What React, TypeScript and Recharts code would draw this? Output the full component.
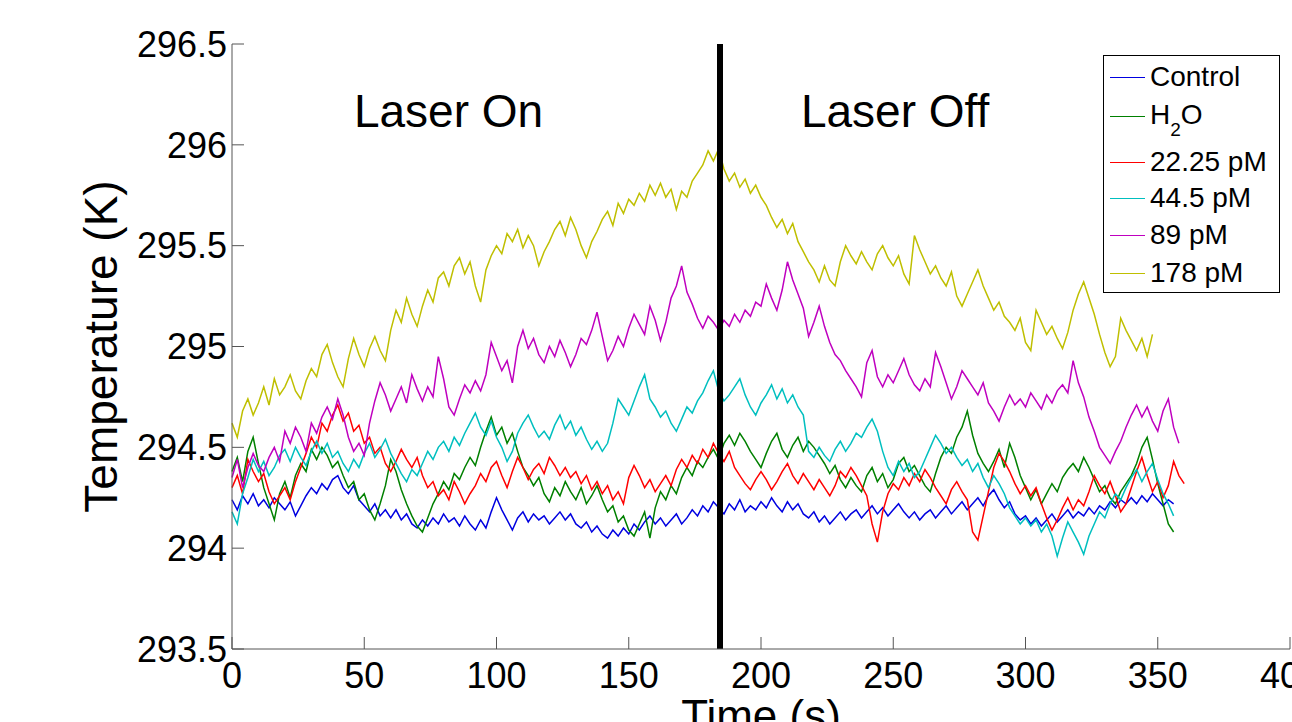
import {
    LineChart,
    Line,
    XAxis,
    YAxis,
    ReferenceLine,
    ReferenceDot,
    Legend,
} from "recharts";

const FONT = "'Liberation Sans', Arial, Helvetica, sans-serif";
const AXIS_COLOR = "#555";

// seconds between samples
const SAMPLE_PERIOD = 2;
const LASER_OFF_TIME = 184.5;

const X_TICKS = [0, 50, 100, 150, 200, 250, 300, 350, 400];
const Y_TICKS = [293.5, 294, 294.5, 295, 295.5, 296, 296.5];

// temperature (K), one value every 2 s starting at t = 0
const CONTROL = [
    294.24, 294.19, 294.26, 294.22, 294.27, 294.21, 294.24, 294.2, 294.25, 294.22,
    294.19, 294.23, 294.16, 294.21, 294.26, 294.3, 294.27, 294.32, 294.29, 294.34,
    294.36, 294.3, 294.27, 294.31, 294.24, 294.21, 294.18, 294.22, 294.16, 294.19,
    294.15, 294.19, 294.14, 294.17, 294.12, 294.1, 294.14, 294.11, 294.15, 294.12,
    294.17, 294.13, 294.15, 294.11, 294.16, 294.12, 294.09, 294.14, 294.1, 294.18,
    294.25, 294.19, 294.14, 294.09, 294.15, 294.18, 294.13, 294.17, 294.14, 294.16,
    294.12, 294.15, 294.18, 294.14, 294.17, 294.12, 294.1, 294.13, 294.08, 294.11,
    294.07, 294.05, 294.09, 294.06, 294.1, 294.07, 294.12, 294.09, 294.13, 294.16,
    294.12, 294.15, 294.11, 294.14, 294.17, 294.12, 294.15, 294.19, 294.16, 294.21,
    294.18, 294.23, 294.2, 294.17, 294.22, 294.19, 294.24, 294.18, 294.21, 294.19,
    294.23, 294.2, 294.25, 294.21, 294.18, 294.23, 294.19, 294.22, 294.17, 294.15,
    294.18, 294.13, 294.16, 294.12, 294.15, 294.18, 294.14, 294.17, 294.19, 294.15,
    294.18, 294.21, 294.17, 294.2, 294.16, 294.19, 294.22, 294.18, 294.15, 294.18,
    294.14, 294.17, 294.19, 294.15, 294.18, 294.21, 294.17, 294.2, 294.23, 294.19,
    294.22, 294.25, 294.21, 294.26, 294.29, 294.24, 294.2, 294.23, 294.17, 294.14,
    294.16, 294.12, 294.15, 294.11, 294.14, 294.17, 294.13, 294.16, 294.19, 294.15,
    294.18, 294.16, 294.2, 294.17, 294.21, 294.19, 294.23, 294.2, 294.24, 294.22,
    294.25, 294.22, 294.26, 294.23, 294.27, 294.24, 294.21, 294.24, 294.22,
];

const H2O = [
    294.38, 294.45, 294.33, 294.48, 294.55, 294.42, 294.3, 294.22, 294.14, 294.27,
    294.33, 294.25, 294.36, 294.42, 294.38, 294.49, 294.44, 294.5, 294.46, 294.4,
    294.43, 294.36, 294.3, 294.33, 294.24, 294.27, 294.19, 294.14, 294.22, 294.31,
    294.44, 294.38, 294.29, 294.22, 294.16, 294.11, 294.08, 294.15, 294.22, 294.27,
    294.33, 294.29, 294.37, 294.34, 294.4, 294.45, 294.41, 294.5, 294.58, 294.65,
    294.56, 294.6, 294.52, 294.57, 294.48, 294.4, 294.36, 294.31, 294.35, 294.27,
    294.23, 294.3, 294.26, 294.33, 294.28, 294.24, 294.3, 294.22, 294.26, 294.31,
    294.24, 294.18, 294.21, 294.13, 294.16, 294.09, 294.06, 294.12, 294.18, 294.05,
    294.2, 294.28, 294.24, 294.31, 294.27, 294.35, 294.4, 294.36, 294.43, 294.4,
    294.45, 294.49, 294.44, 294.52, 294.56, 294.51, 294.57, 294.53, 294.48, 294.44,
    294.4, 294.47, 294.53, 294.57, 294.49, 294.45, 294.51, 294.55, 294.48, 294.53,
    294.5, 294.46, 294.42, 294.37, 294.41, 294.34, 294.3, 294.35, 294.31, 294.28,
    294.36, 294.4, 294.33, 294.37, 294.3, 294.34, 294.42, 294.45, 294.38, 294.41,
    294.36, 294.31, 294.28, 294.37, 294.45, 294.5, 294.47, 294.55, 294.6, 294.68,
    294.56, 294.47, 294.42, 294.38, 294.43, 294.49, 294.4, 294.52, 294.45, 294.36,
    294.3, 294.24, 294.29, 294.22, 294.27, 294.32, 294.28, 294.35, 294.39, 294.42,
    294.38, 294.45, 294.4, 294.34, 294.28, 294.31, 294.25, 294.22, 294.28, 294.32,
    294.36, 294.42, 294.5, 294.55, 294.44, 294.32, 294.22, 294.12, 294.08,
];

const PM_22 = [
    294.3, 294.36, 294.27, 294.44, 294.38, 294.33, 294.37, 294.28, 294.22, 294.26,
    294.3, 294.24, 294.33, 294.4, 294.47, 294.55, 294.5, 294.62, 294.58, 294.66,
    294.71, 294.63, 294.67, 294.58, 294.61, 294.52, 294.55, 294.47, 294.5, 294.42,
    294.38, 294.43, 294.49, 294.44, 294.4, 294.45, 294.36, 294.3, 294.33, 294.26,
    294.29, 294.24, 294.33, 294.28, 294.22, 294.27, 294.31, 294.37, 294.33, 294.4,
    294.43, 294.36, 294.3, 294.38, 294.45, 294.4, 294.34, 294.39, 294.42, 294.37,
    294.45, 294.41, 294.36, 294.4, 294.35, 294.38, 294.32, 294.36, 294.29, 294.33,
    294.27, 294.31, 294.24, 294.28, 294.22, 294.35, 294.41, 294.36, 294.3, 294.34,
    294.28, 294.32, 294.36, 294.31, 294.39, 294.44, 294.4, 294.46, 294.42, 294.49,
    294.45, 294.52, 294.47, 294.43, 294.48, 294.4, 294.36, 294.32, 294.29, 294.34,
    294.38, 294.34, 294.29, 294.33, 294.38, 294.42, 294.36, 294.32, 294.37, 294.33,
    294.29, 294.34, 294.3, 294.26, 294.31, 294.38, 294.35, 294.4, 294.36, 294.31,
    294.26, 294.12, 294.03, 294.18, 294.27, 294.32, 294.29, 294.35, 294.31, 294.37,
    294.33, 294.39, 294.35, 294.3, 294.26, 294.22, 294.29, 294.33, 294.28, 294.24,
    294.08, 294.04, 294.16, 294.28, 294.4, 294.47, 294.43, 294.38, 294.32, 294.27,
    294.31, 294.26, 294.3, 294.22, 294.15, 294.09, 294.14, 294.2, 294.25, 294.19,
    294.24, 294.21, 294.28, 294.36, 294.31, 294.27, 294.33, 294.26, 294.18, 294.22,
    294.3, 294.38, 294.45, 294.36, 294.28, 294.33, 294.25, 294.31, 294.43, 294.36,
    294.32,
];

const PM_44 = [
    294.18, 294.12, 294.27, 294.35, 294.44, 294.38, 294.43, 294.36, 294.4, 294.46,
    294.49, 294.43, 294.5, 294.45, 294.41, 294.48, 294.53, 294.47, 294.52, 294.45,
    294.48, 294.42, 294.38, 294.44, 294.4, 294.47, 294.52, 294.45, 294.49, 294.54,
    294.47, 294.42, 294.37, 294.33, 294.39, 294.36, 294.42, 294.48, 294.44, 294.5,
    294.53, 294.48, 294.55, 294.51, 294.57, 294.62, 294.67, 294.6, 294.56, 294.63,
    294.55, 294.5, 294.43, 294.48, 294.57, 294.62, 294.66, 294.6, 294.55, 294.58,
    294.54, 294.61, 294.66, 294.59, 294.63, 294.56, 294.6, 294.54, 294.49, 294.53,
    294.48, 294.52, 294.62, 294.74, 294.7, 294.66, 294.73, 294.8, 294.86, 294.74,
    294.7, 294.65, 294.68, 294.62, 294.58, 294.64, 294.7, 294.67, 294.73, 294.77,
    294.83, 294.88, 294.78, 294.73, 294.76, 294.8, 294.84, 294.76, 294.7, 294.66,
    294.72, 294.76, 294.81, 294.74, 294.79, 294.72, 294.76, 294.7, 294.66, 294.48,
    294.45, 294.5, 294.46, 294.43, 294.49, 294.53, 294.48, 294.52, 294.57, 294.55,
    294.6, 294.64, 294.58, 294.48, 294.4, 294.36, 294.43, 294.38, 294.42, 294.35,
    294.38, 294.44, 294.5, 294.56, 294.52, 294.47, 294.5, 294.45, 294.41, 294.44,
    294.38, 294.42, 294.35, 294.3, 294.36, 294.32, 294.27, 294.2, 294.16, 294.12,
    294.15, 294.11, 294.14, 294.08, 294.12, 294.06, 293.96, 294.05, 294.13, 294.08,
    294.03, 293.97, 294.06, 294.12, 294.18, 294.15, 294.22, 294.27, 294.24, 294.3,
    294.35, 294.39, 294.33, 294.38, 294.42, 294.34, 294.27, 294.22, 294.16,
];

const PM_89 = [
    294.35, 294.44, 294.3, 294.4, 294.47, 294.41, 294.38, 294.45, 294.5, 294.43,
    294.58, 294.52, 294.6, 294.55, 294.48, 294.62, 294.57, 294.65, 294.7, 294.64,
    294.74, 294.66, 294.55, 294.48, 294.52, 294.46, 294.62, 294.73, 294.82, 294.76,
    294.68, 294.74, 294.8, 294.72, 294.86, 294.79, 294.73, 294.8, 294.75, 294.95,
    294.84, 294.7, 294.66, 294.74, 294.81, 294.77, 294.83, 294.78, 294.86, 295.02,
    294.95, 294.88, 294.93, 294.82, 295.0, 295.08, 294.99, 295.04, 294.96, 294.92,
    295.0, 294.95, 295.03, 294.97, 294.9, 294.96, 295.04, 295.01, 295.08, 295.17,
    295.05, 294.93, 294.98, 295.05, 295.0, 295.09, 295.16, 295.11, 295.06, 295.2,
    295.13, 295.03, 295.12, 295.24, 295.3, 295.4, 295.27, 295.21, 295.14, 295.09,
    295.15, 295.12, 295.08, 295.13, 295.1, 295.16, 295.12, 295.18, 295.15, 295.22,
    295.2, 295.31, 295.24, 295.18, 295.28, 295.42, 295.33, 295.26, 295.19, 295.05,
    295.12, 295.2, 295.1, 295.02, 294.96, 294.93, 294.88, 294.84, 294.8, 294.75,
    294.92, 294.98, 294.85, 294.8, 294.86, 294.82, 294.88, 294.94, 294.86, 294.81,
    294.78, 294.84, 294.8, 294.97, 294.9, 294.82, 294.74, 294.8, 294.88, 294.84,
    294.8, 294.76, 294.82, 294.72, 294.68, 294.63, 294.7, 294.76, 294.71, 294.74,
    294.7, 294.77, 294.73, 294.69, 294.76, 294.72, 294.78, 294.81, 294.77, 294.93,
    294.82, 294.75, 294.65, 294.58, 294.5, 294.46, 294.42, 294.48, 294.53, 294.6,
    294.66, 294.71, 294.65, 294.7, 294.63, 294.58, 294.68, 294.74, 294.6, 294.52,
];

const PM_178 = [
    294.62, 294.55, 294.68, 294.74, 294.66, 294.72, 294.8, 294.71, 294.84, 294.76,
    294.8, 294.86, 294.78, 294.74, 294.83, 294.89, 294.85, 294.96, 295.01, 294.92,
    294.85, 294.8, 294.94, 295.04, 294.96, 294.9, 294.99, 295.05, 294.98, 294.93,
    295.08, 295.18, 295.12, 295.24, 295.16, 295.1, 295.2, 295.28, 295.22, 295.34,
    295.37, 295.3, 295.4, 295.44, 295.36, 295.42, 295.3, 295.22, 295.38, 295.45,
    295.5, 295.46, 295.56, 295.52, 295.58, 295.49, 295.55, 295.5, 295.4, 295.47,
    295.52, 295.58, 295.62, 295.55, 295.64, 295.58, 295.5, 295.44, 295.52, 295.57,
    295.63, 295.67, 295.6, 295.71, 295.66, 295.73, 295.7, 295.76, 295.72, 295.8,
    295.75, 295.81, 295.74, 295.78, 295.68, 295.77, 295.74, 295.82, 295.86, 295.9,
    295.97, 295.92, 295.98, 295.88, 295.82, 295.86, 295.79, 295.83, 295.76, 295.8,
    295.74, 295.7, 295.64, 295.59, 295.63, 295.56, 295.61, 295.52, 295.47, 295.42,
    295.38, 295.32, 295.4, 295.33, 295.3, 295.42, 295.5, 295.45, 295.41, 295.47,
    295.42, 295.38, 295.46, 295.5, 295.44, 295.4, 295.45, 295.36, 295.31, 295.55,
    295.48, 295.42, 295.36, 295.4, 295.34, 295.3, 295.37, 295.25, 295.2, 295.26,
    295.32, 295.38, 295.3, 295.24, 295.18, 295.22, 295.15, 295.12, 295.08, 295.14,
    295.02, 294.98, 295.18, 295.12, 295.06, 295.1, 295.04, 294.99, 295.07, 295.18,
    295.26, 295.32, 295.24, 295.16, 295.06, 294.97, 294.9, 294.95, 295.14, 295.08,
    295.03, 294.98, 295.04, 294.95, 295.06,
];

const SERIES = [
    { key: "control", name: "Control", color: "#0000E0", values: CONTROL },
    { key: "h2o", name: "H2O", color: "#008000", values: H2O },
    { key: "pm22", name: "22.25 pM", color: "#FF0000", values: PM_22 },
    { key: "pm44", name: "44.5 pM", color: "#00BFBF", values: PM_44 },
    { key: "pm89", name: "89 pM", color: "#BF00BF", values: PM_89 },
    { key: "pm178", name: "178 pM", color: "#BFBF00", values: PM_178 },
];

const ANNOTATIONS = [
    { text: "Laser On", t: 46.1, temp: 296.09 },
    { text: "Laser Off", t: 215.1, temp: 296.09 },
];

const rowCount = Math.max(...SERIES.map((s) => s.values.length));
const chartData = Array.from({ length: rowCount }, (_, i) => {
    const row: Record<string, number | undefined> = { t: i * SAMPLE_PERIOD };
    SERIES.forEach((s) => {
        row[s.key] = s.values[i];
    });
    return row;
});

// vertical centres of the legend rows, page pixels
const LEGEND_TOP = 55;
const LEGEND_ROW_Y = [77, 116, 162, 198, 235, 273];

const LegendBox = () => (
    <div
        style={{
            position: "relative",
            width: 177,
            height: 238,
            border: "1px solid #000",
            boxSizing: "border-box",
            background: "#fff",
            fontFamily: FONT,
            color: "#000",
        }}
    >
        {SERIES.map((s, i) => (
            <div
                key={s.key}
                style={{
                    position: "absolute",
                    left: 0,
                    top: LEGEND_ROW_Y[i] - LEGEND_TOP - 1 - 20,
                    height: 40,
                    display: "flex",
                    alignItems: "center",
                    whiteSpace: "nowrap",
                }}
            >
                <div style={{ width: 35, height: 1, background: s.color, marginLeft: 6, marginRight: 5 }} />
                <span style={{ fontSize: 28, lineHeight: "40px" }}>
                    {s.key === "h2o" ? (
                        <>
                            H<span style={{ fontSize: 19, position: "relative", top: 12 }}>2</span>O
                        </>
                    ) : (
                        s.name
                    )}
                </span>
            </div>
        ))}
    </div>
);

const annotationLabel = (text: string) => (props: any) => {
    const { x, y } = props.viewBox || { x: 0, y: 0 };
    return (
        <text x={x} y={y} fontSize={46} fontFamily={FONT} fill="#000">
            {text}
        </text>
    );
};

const yTitle = (props: any) => {
    const vb = props.viewBox || { x: 0, y: 44, width: 232, height: 605 };
    const x = vb.x + 117;
    const y = vb.y + vb.height / 2;
    return (
        <text x={x} y={y} transform={`rotate(-90 ${x} ${y})`} textAnchor="middle" fontSize={46} fontFamily={FONT} fill="#000">
            Temperature (K)
        </text>
    );
};

const xTitle = (props: any) => {
    const vb = props.viewBox || { x: 232, y: 649, width: 1058, height: 60 };
    return (
        <text x={vb.x + vb.width / 2} y={vb.y + 82} textAnchor="middle" fontSize={44} fontFamily={FONT} fill="#000">
            Time (s)
        </text>
    );
};

const tickStyle = { fontSize: 36, fill: "#000", fontFamily: FONT };

export default function App() {
    return (
        <div style={{ position: "fixed", left: 0, top: 0, background: "#fff" }}>
            <LineChart width={1292} height={722} data={chartData} margin={{ top: 44, right: 2, bottom: 13, left: 0 }}>
                <XAxis
                    dataKey="t"
                    type="number"
                    domain={[0, 400]}
                    ticks={X_TICKS}
                    interval={0}
                    height={60}
                    tickSize={-12}
                    tickMargin={25}
                    tick={tickStyle}
                    stroke={AXIS_COLOR}
                    label={xTitle}
                />
                <XAxis
                    xAxisId="top"
                    orientation="top"
                    dataKey="t"
                    type="number"
                    domain={[0, 400]}
                    ticks={X_TICKS}
                    interval={0}
                    height={0}
                    tickSize={-12}
                    tickFormatter={() => ""}
                    stroke={AXIS_COLOR}
                />
                <YAxis
                    type="number"
                    domain={[293.5, 296.5]}
                    ticks={Y_TICKS}
                    interval={0}
                    width={232}
                    tickSize={-12}
                    tickMargin={17}
                    tick={tickStyle}
                    stroke={AXIS_COLOR}
                    label={yTitle}
                />
                <YAxis
                    yAxisId="right"
                    orientation="right"
                    type="number"
                    domain={[293.5, 296.5]}
                    ticks={Y_TICKS}
                    interval={0}
                    width={0}
                    tickSize={-12}
                    tickFormatter={() => ""}
                    stroke={AXIS_COLOR}
                />
                {SERIES.map((s) => (
                    <Line
                        key={s.key}
                        dataKey={s.key}
                        name={s.name}
                        stroke={s.color}
                        strokeWidth={1.5}
                        dot={false}
                        activeDot={false}
                        isAnimationActive={false}
                    />
                ))}
                <ReferenceLine x={LASER_OFF_TIME} stroke="#000" strokeWidth={6} />
                {ANNOTATIONS.map((a) => (
                    <ReferenceDot
                        key={a.text}
                        x={a.t}
                        y={a.temp}
                        r={0}
                        fill="none"
                        stroke="none"
                        label={annotationLabel(a.text)}
                    />
                ))}
                <Legend
                    layout="vertical"
                    align="center"
                    verticalAlign="middle"
                    content={() => <LegendBox />}
                    wrapperStyle={{ left: 1103, top: LEGEND_TOP, width: 177, height: 238 }}
                />
            </LineChart>
        </div>
    );
}
